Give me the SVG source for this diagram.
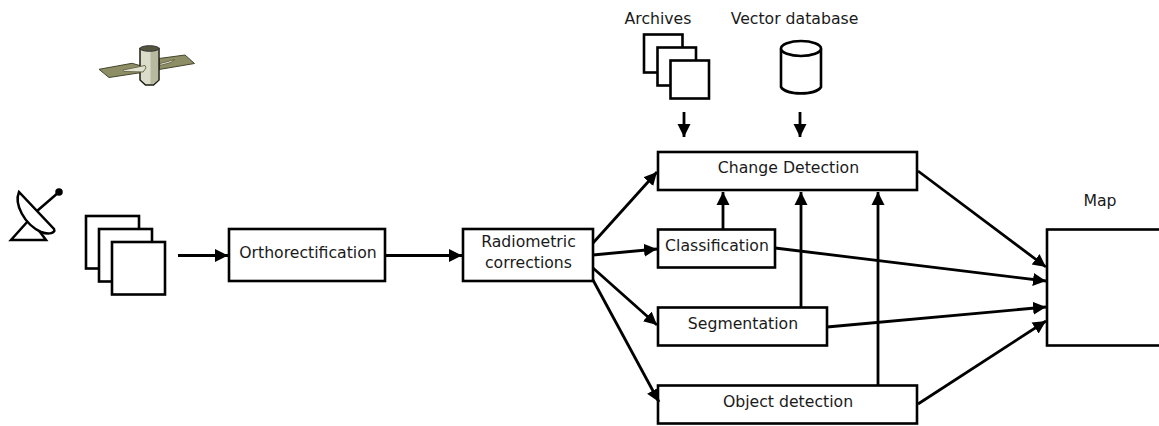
<svg xmlns="http://www.w3.org/2000/svg" width="1159" height="426" viewBox="0 0 1159 426">
<style>
.b{fill:#fff;stroke:#000;stroke-width:2.600}
.t{font-family:"DejaVu Sans",sans-serif;font-size:15.700px;fill:#1a1a1a;text-anchor:middle}
.c line{stroke:#000;stroke-width:2.800;marker-end:url(#a)}
</style>
<defs>
<marker id="a" markerUnits="userSpaceOnUse" markerWidth="15" markerHeight="15" refX="13" refY="7" orient="auto"><path d="M0 0.500L13 7L0 13.500z" fill="#000"/></marker>
</defs>
<g id="satellite">
<path d="M99 69.300L132 63.300L145 67L145 72L109 77.500z" fill="#8e8e66" stroke="#45452c" stroke-width="1"/>
<path d="M159 58.500L185 55L194.500 63.500L159 69.500z" fill="#8e8e66" stroke="#45452c" stroke-width="1"/>
<path d="M160 63.500L175 59.500L171 62.500L160 65.500z" fill="#e2e2d2" stroke="#6a6a4c" stroke-width="1"/>
<path d="M140 48.500L140 80L145.500 85L153.500 85L159 80L159 48.500z" fill="#dcdccb" stroke="#1c1c12" stroke-width="1.500"/>
<path d="M150.500 50L158 50L158 80L153 84L150.500 84z" fill="#b9b9a0"/>
<ellipse cx="149.500" cy="48.500" rx="9.500" ry="2.800" fill="#55553f" stroke="#333" stroke-width="1"/>
<path d="M123 70L145 65.500L146 68L143 72L124 71.500z" fill="#e2e2d2" stroke="#6a6a4c" stroke-width="1"/>
</g>
<g id="antenna" fill="none" stroke="#000" stroke-width="2.500">
<path d="M28 221L11 240L46 240L34 224"/>
<path d="M37 211L59 192"/>
<circle cx="59" cy="192" r="2.500" fill="#000"/>
<path d="M19 192C14 204 24 224 41 232C49 235 56 233 54 229L19 192z" fill="#fff"/>
</g>
<g id="images">
<rect class="b" x="86" y="216" width="53" height="52.500"/>
<rect class="b" x="99" y="229" width="53" height="52.500"/>
<rect class="b" x="112" y="242" width="53" height="52.500"/>
</g>
<g id="archives">
<rect class="b" x="644" y="34.500" width="38.500" height="38"/>
<rect class="b" x="657.500" y="47.500" width="38.500" height="38"/>
<rect class="b" x="670.500" y="60.500" width="38.500" height="38"/>
<text class="t" x="658" y="24">Archives</text>
</g>
<g id="vector-database">
<path class="b" d="M781 48.500L781 87C786 95.500 816 95.500 821 87L821 48.500"/>
<ellipse class="b" cx="801" cy="48.500" rx="20" ry="7.500"/>
<text class="t" x="794.500" y="24">Vector database</text>
</g>
<g id="orthorectification"><rect class="b" x="229" y="229" width="156" height="52"/><text class="t" x="308" y="258">Orthorectification</text></g>
<g id="radiometric"><rect class="b" x="463" y="229" width="130" height="52"/><text class="t" x="528.500" y="247">Radiometric</text><text class="t" x="528.500" y="268">corrections</text></g>
<g id="change-detection"><rect class="b" x="658" y="152" width="259" height="38"/><text class="t" x="788.500" y="173">Change Detection</text></g>
<g id="classification"><rect class="b" x="658" y="229.500" width="117" height="38"/><text class="t" x="717" y="251">Classification</text></g>
<g id="segmentation"><rect class="b" x="658" y="307.500" width="169" height="38"/><text class="t" x="743" y="329">Segmentation</text></g>
<g id="object-detection"><rect class="b" x="658" y="385.500" width="259" height="38"/><text class="t" x="788" y="407">Object detection</text></g>
<g id="map"><rect class="b" x="1047" y="229.500" width="116" height="116"/><text class="t" x="1100" y="206">Map</text></g>
<g class="c" id="connectors">
<line x1="178" y1="255.500" x2="228" y2="255.500"/>
<line x1="385" y1="255.500" x2="462" y2="255.500"/>
<line x1="593" y1="243" x2="657" y2="172"/>
<line x1="593" y1="255" x2="657" y2="249"/>
<line x1="593" y1="268" x2="657" y2="325"/>
<line x1="593" y1="280" x2="659" y2="402"/>
<line x1="684" y1="112" x2="684" y2="137"/>
<line x1="800" y1="112" x2="800" y2="137"/>
<line x1="723" y1="229" x2="723" y2="192"/>
<line x1="801" y1="307" x2="801" y2="192"/>
<line x1="878" y1="385" x2="878" y2="192"/>
<line x1="918" y1="171" x2="1046" y2="267"/>
<line x1="775" y1="248" x2="1046" y2="281"/>
<line x1="827" y1="327" x2="1046" y2="307"/>
<line x1="918" y1="404" x2="1046" y2="321"/>
</g>
</svg>
